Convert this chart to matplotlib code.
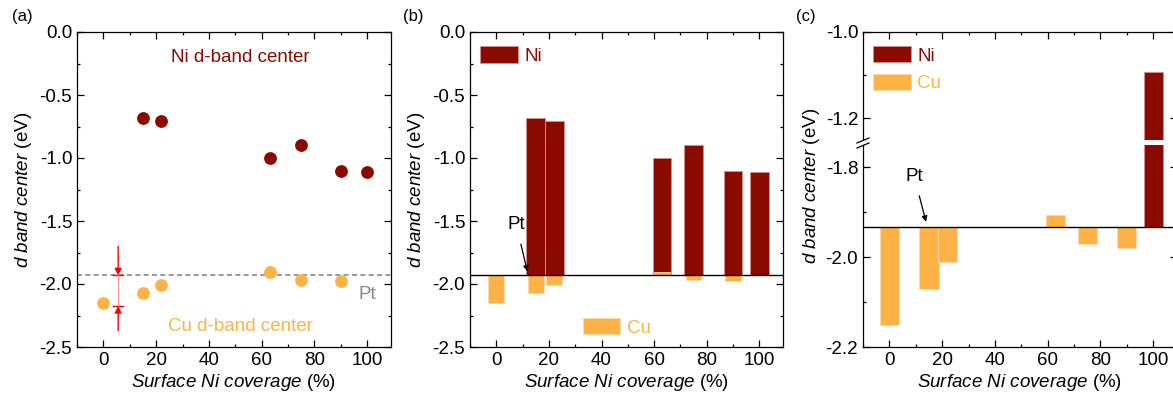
import matplotlib
matplotlib.use("Agg")
import matplotlib.pyplot as plt
from matplotlib.patches import Patch
from matplotlib.lines import Line2D
from matplotlib.ticker import MultipleLocator, AutoMinorLocator
import numpy as np

plt.rcParams['font.family'] = ['Liberation Sans', 'DejaVu Sans']
plt.rcParams['mathtext.fontset'] = 'custom'
plt.rcParams['mathtext.rm'] = 'Liberation Sans'
plt.rcParams['mathtext.it'] = 'Liberation Sans:italic'
plt.rcParams['axes.linewidth'] = 0.9
plt.rcParams['axes.unicode_minus'] = False

# data
coverage = [0, 15, 22, 63, 75, 90, 100]
ni_center = [np.nan, -0.68, -0.71, -1.00, -0.90, -1.10, -1.11]
cu_center = [-2.15, -2.07, -2.01, -1.905, -1.97, -1.98, np.nan]
pt_center = -1.932
ni_pure_c = -1.092          # Ni bar as drawn in panel (c)

NI = '#8b0a00'
CU = '#ffb347'
FS = 13.5
LFS = 13.5
YLAB = r'$\it{d\ band\ center}$ (eV)'
XLAB = r'$\it{Surface\ Ni\ coverage}$ (%)'

cov = np.array(coverage, dtype=float)
ni = np.array(ni_center)
cu = np.array(cu_center)
has_ni = ~np.isnan(ni)
has_cu = ~np.isnan(cu)


def style(ax, major, top=True, bottom=True):
    ax.set_xlim(-10, 109)
    ax.xaxis.set_major_locator(MultipleLocator(20))
    ax.xaxis.set_minor_locator(MultipleLocator(10))
    ax.yaxis.set_major_locator(MultipleLocator(major))
    ax.yaxis.set_minor_locator(AutoMinorLocator(2))
    ax.tick_params(which='both', direction='in', top=top, right=True,
                   bottom=bottom, labelsize=FS, width=0.9)
    ax.tick_params(which='major', length=5)
    ax.tick_params(which='minor', length=2.5)


W = 1173 / 100
H = 394 / 100
fig = plt.figure(figsize=(W, H), dpi=100)


def rect(l, t, w, b):
    return [l / 1173, 1 - b / 394, w / 1173, (b - t) / 394]


# ---------------- (a) ----------------
ax1 = fig.add_axes(rect(77, 32, 314, 347))
ax1.scatter(cov[has_ni], ni[has_ni], s=85, color=NI, zorder=3, linewidths=0)
ax1.scatter(cov[has_cu], cu[has_cu], s=85, color=CU, zorder=3, linewidths=0)
ax1.axhline(pt_center, color='#888888', ls=(0, (3, 2)), lw=1.2, zorder=2)
ax1.set_ylim(-2.5, 0)
style(ax1, 0.5)
ax1.yaxis.set_major_formatter(lambda v, p: f'{v:.1f}')
ax1.text(52, -0.2, 'Ni d-band center', color=NI, fontsize=LFS, ha='center', va='center')
ax1.text(52, -2.34, 'Cu d-band center', color=CU, fontsize=LFS, ha='center', va='center')
ax1.text(100, -2.087, 'Pt', color='#888888', fontsize=LFS, ha='center', va='center')
# red difference marker
xm = 5.6
ax1.annotate('', xy=(xm, pt_center), xytext=(xm, -1.70),
             arrowprops=dict(arrowstyle='-|>', color='red', lw=1.0, mutation_scale=10,
                             shrinkA=0, shrinkB=0))
ax1.annotate('', xy=(xm, -2.174), xytext=(xm, -2.37),
             arrowprops=dict(arrowstyle='-|>', color='red', lw=1.0, mutation_scale=10,
                             shrinkA=0, shrinkB=0))
ax1.plot([xm - 2, xm + 2], [pt_center, pt_center], color='red', lw=1.0)
ax1.plot([xm - 2, xm + 2], [-2.174, -2.174], color='red', lw=1.0)
ax1.plot([xm, xm], [pt_center, -2.174], color='#ff8080', lw=0.6)
ax1.set_xlabel(XLAB, fontsize=LFS, labelpad=2)
ax1.set_ylabel(YLAB, fontsize=LFS, labelpad=4)
fig.text(12 / 1173, 1 - 17 / 394, '(a)', fontsize=12, va='center')

# ---------------- (b) ----------------
ax2 = fig.add_axes(rect(470, 32, 313, 347))
ax2.bar(cov[has_ni], ni[has_ni] - pt_center, bottom=pt_center, width=7.2,
        color=NI, edgecolor='#d89090', linewidth=0.6, zorder=2)
ax2.bar(cov[has_cu], cu[has_cu] - pt_center, bottom=pt_center, width=6.0,
        color=CU, edgecolor='#ffd8a8', linewidth=0.6, zorder=3)
ax2.axhline(pt_center, color='black', lw=1.0, zorder=4)
ax2.set_ylim(-2.5, 0)
style(ax2, 0.5)
ax2.yaxis.set_major_formatter(lambda v, p: f'{v:.1f}')
ax2.annotate('Pt', xy=(11.8, -1.90), xytext=(7.6, -1.53), fontsize=LFS,
             ha='center', va='center',
             arrowprops=dict(arrowstyle='-|>', color='black', lw=0.9,
                             mutation_scale=8, shrinkA=6, shrinkB=0))
leg = ax2.legend(handles=[Patch(facecolor=NI, edgecolor='#d89090', lw=0.6, label='Ni')],
                 loc='center left', bbox_to_anchor=(0.032, 0.925), frameon=False,
                 fontsize=LFS, handlelength=2.0, handleheight=0.95, borderpad=0,
                 borderaxespad=0, handletextpad=0.35, labelcolor=NI)
ax2.add_artist(leg)
ax2.legend(handles=[Patch(facecolor=CU, edgecolor='#ffd8a8', lw=0.6, label='Cu')],
           loc='center left', bbox_to_anchor=(0.361, 0.062), frameon=False,
           fontsize=LFS, handlelength=2.0, handleheight=0.95, borderpad=0,
           borderaxespad=0, handletextpad=0.35, labelcolor=CU)
ax2.set_xlabel(XLAB, fontsize=LFS, labelpad=2)
ax2.set_ylabel(YLAB, fontsize=LFS, labelpad=4)
fig.text(403 / 1173, 1 - 17 / 394, '(b)', fontsize=12, va='center')

# ---------------- (c) broken axis ----------------
ax3u = fig.add_axes(rect(863, 32, 314, 140))
ax3l = fig.add_axes(rect(863, 145, 314, 347))
for ax in (ax3u, ax3l):
    ax.bar(cov[has_cu], cu[has_cu] - pt_center, bottom=pt_center, width=7.3,
           color=CU, edgecolor='#ffd8a8', linewidth=0.6, zorder=2)
    ax.bar(cov[-1:], [ni_pure_c - pt_center], bottom=pt_center, width=7.2,
           color=NI, edgecolor='#d89090', linewidth=0.6, zorder=2)
    ax.axhline(pt_center, color='black', lw=1.0, zorder=4)
ax3u.set_ylim(-1.25, -1.0)
ax3l.set_ylim(-2.2, -1.75)
style(ax3u, 0.2, bottom=False)
style(ax3l, 0.2, top=False)
ax3u.yaxis.set_minor_locator(MultipleLocator(0.1))
ax3l.yaxis.set_minor_locator(MultipleLocator(0.1))
ax3u.yaxis.set_major_formatter(lambda v, p: f'{v:.1f}')
ax3l.yaxis.set_major_formatter(lambda v, p: f'{v:.1f}')
ax3u.spines['bottom'].set_visible(False)
ax3l.spines['top'].set_visible(False)
ax3u.tick_params(labelbottom=False)
ax3l.annotate('Pt', xy=(13.9, -1.921), xytext=(9.4, -1.82), fontsize=LFS,
              ha='center', va='center',
              arrowprops=dict(arrowstyle='-|>', color='black', lw=0.9,
                              mutation_scale=8, shrinkA=6, shrinkB=0))
fig.legend(handles=[Patch(facecolor=NI, edgecolor='#d89090', lw=0.6, label='Ni'),
                    Patch(facecolor=CU, edgecolor='#ffd8a8', lw=0.6, label='Cu')],
           loc='upper left', bbox_to_anchor=(873 / 1173, 1 - 46 / 394), frameon=False,
           fontsize=LFS, handlelength=2.0, handleheight=0.95, borderpad=0,
           borderaxespad=0, handletextpad=0.35, labelspacing=0.5,
           labelcolor=[NI, CU])
for y0 in (143, 148):
    fig.add_artist(Line2D([857 / 1173, 869 / 1173],
                          [1 - y0 / 394, 1 - (y0 - 5) / 394],
                          color='black', lw=0.9))
ax3l.set_xlabel(XLAB, fontsize=LFS, labelpad=2)
fig.text(811 / 1173, 1 - 186 / 394, YLAB, fontsize=LFS, rotation=90,
         ha='center', va='center')
fig.text(796 / 1173, 1 - 17 / 394, '(c)', fontsize=12, va='center')

fig.savefig('out.png', dpi=100)
